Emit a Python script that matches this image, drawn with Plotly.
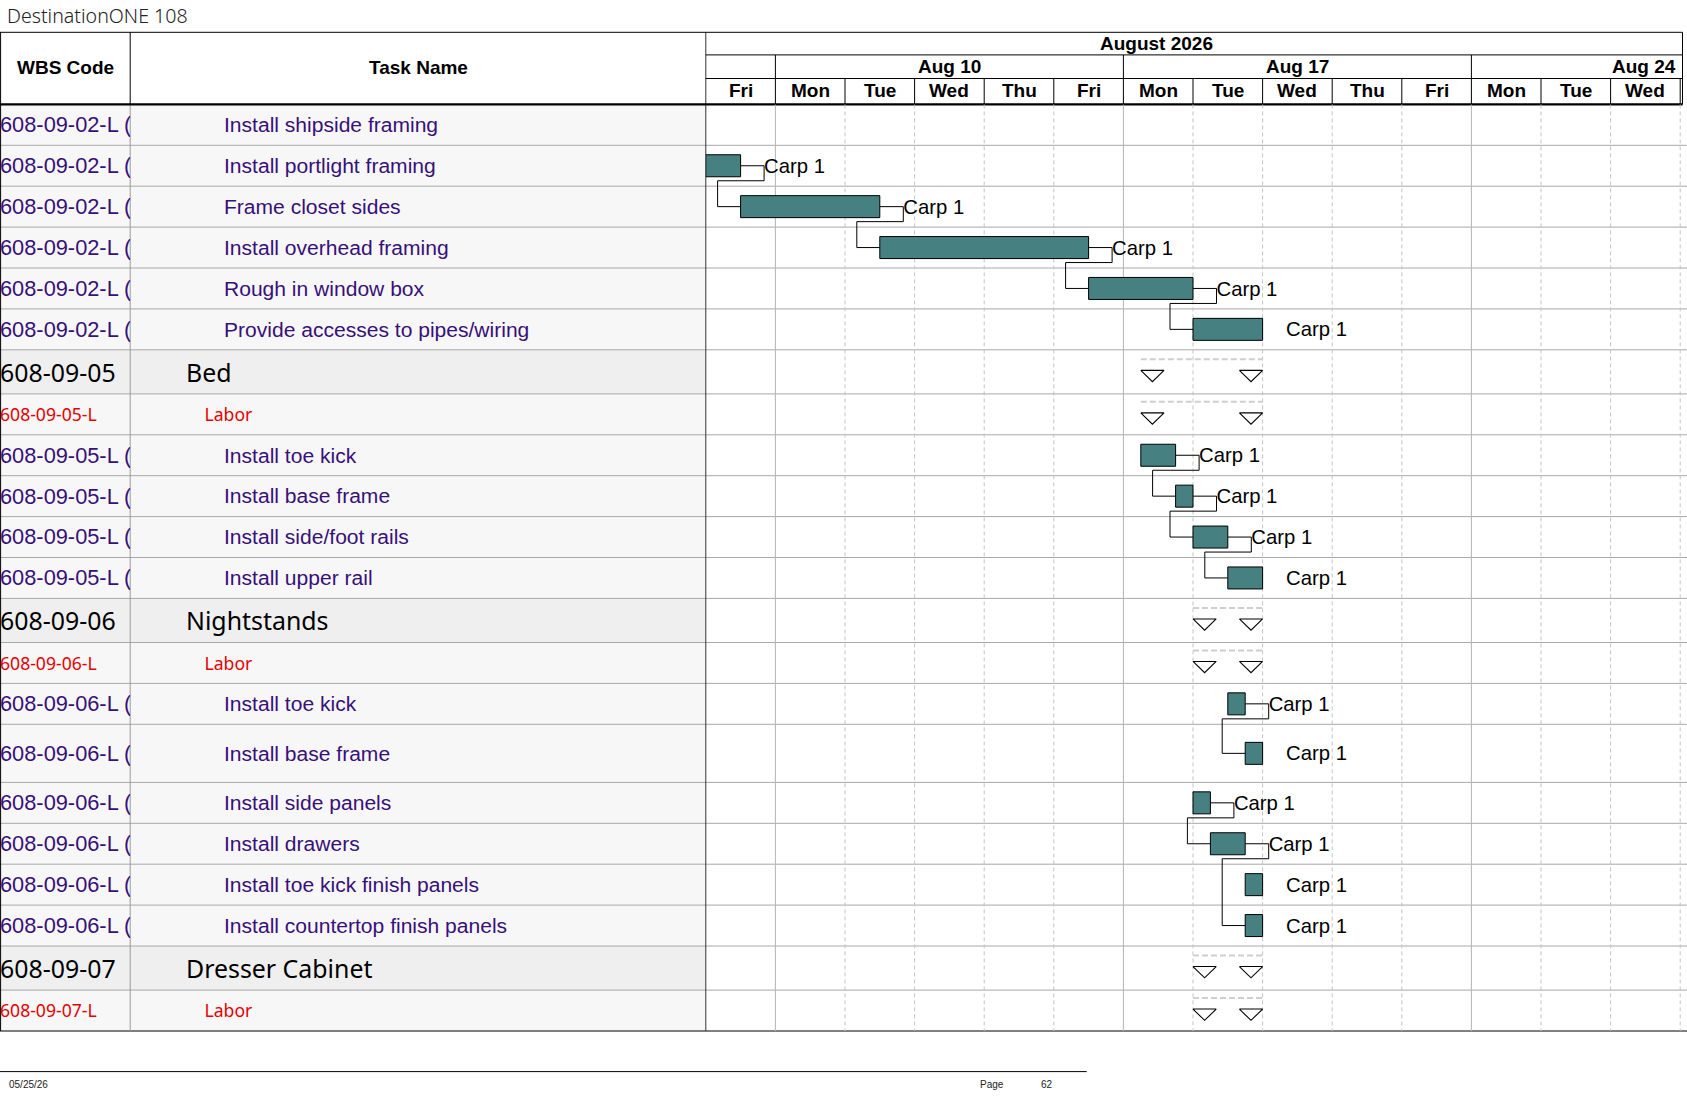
import plotly.graph_objects as go

# ---------------- data ----------------
title_text = "DestinationONE 108"
month_label = "August 2026"
week_labels = ["Aug 10", "Aug 17", "Aug 24"]
week_start_day = [1, 6, 11]          # working-day index of each Monday
day_labels = ["Fri", "Mon", "Tue", "Wed", "Thu", "Fri", "Mon",
              "Tue", "Wed", "Thu", "Fri", "Mon", "Tue", "Wed"]
header_wbs = "WBS Code"
header_task = "Task Name"

wbs_codes = [
    "608-09-02-L (", "608-09-02-L (", "608-09-02-L (", "608-09-02-L (",
    "608-09-02-L (", "608-09-02-L (",
    "608-09-05", "608-09-05-L",
    "608-09-05-L (", "608-09-05-L (", "608-09-05-L (", "608-09-05-L (",
    "608-09-06", "608-09-06-L",
    "608-09-06-L (", "608-09-06-L (", "608-09-06-L (", "608-09-06-L (",
    "608-09-06-L (", "608-09-06-L (",
    "608-09-07", "608-09-07-L",
]
task_names = [
    "Install shipside framing", "Install portlight framing", "Frame closet sides",
    "Install overhead framing", "Rough in window box", "Provide accesses to pipes/wiring",
    "Bed", "Labor",
    "Install toe kick", "Install base frame", "Install side/foot rails", "Install upper rail",
    "Nightstands", "Labor",
    "Install toe kick", "Install base frame", "Install side panels", "Install drawers",
    "Install toe kick finish panels", "Install countertop finish panels",
    "Dresser Cabinet", "Labor",
]
row_kind = (["task"] * 6 + ["summary", "labor"] + ["task"] * 4 +
            ["summary", "labor"] + ["task"] * 6 + ["summary", "labor"])

# start / finish in working days from Fri Aug 7 2026 (fractions of a day)
start_day = [None, 0.0, 0.5, 2.5, 5.5, 7.0,
             6.25, 6.25, 6.25, 6.75, 7.0, 7.5,
             7.0, 7.0, 7.5, 7.75, 7.0, 7.25, 7.75, 7.75,
             7.0, 7.0]
finish_day = [None, 0.5, 2.5, 5.5, 7.0, 8.0,
              8.0, 8.0, 6.75, 7.0, 7.5, 8.0,
              8.0, 8.0, 7.75, 8.0, 7.25, 7.75, 8.0, 8.0,
              8.0, 8.0]
resource = ["", "Carp 1", "Carp 1", "Carp 1", "Carp 1", "Carp 1",
            "", "", "Carp 1", "Carp 1", "Carp 1", "Carp 1",
            "", "", "Carp 1", "Carp 1", "Carp 1", "Carp 1", "Carp 1", "Carp 1",
            "", ""]
links = [(1, 2), (2, 3), (3, 4), (4, 5), (8, 9), (9, 10), (10, 11),
         (14, 15), (16, 17), (17, 19)]

footer_date = "05/25/26"
page_label = "Page"
page_no = "62"

# ---------------- style / layout ----------------
W, H = 1687, 1097
X_WBS, X_TL, X_RIGHT = 130.2, 705.8, 1682.5
DW = 69.6                       # pixels per working day
Y_TOP, Y_WEEK, Y_DAY, Y_BODY = 32.3, 54.9, 78.5, 104.4
H_ROW, H_SUM, H_TALL = 40.9, 44.1, 58.1
tall_rows = {15}
BAR_HALF = 11
ARIAL = "Liberation Sans, Arial, sans-serif"
TAHO = "Noto Sans, DejaVu Sans, sans-serif"
PURPLE = "#37107a"
RED = "#e60000"
TEAL = "#468080"
TEXT_DY = {"task": 2.0, "labor": 2.2, "summary": 3.5}

heights = [H_SUM if k == "summary" else (H_TALL if i in tall_rows else H_ROW)
           for i, k in enumerate(row_kind)]
tops = []
yy = Y_BODY
for h in heights:
    tops.append(yy)
    yy += h
Y_BOT = yy
centers = [t + h / 2 for t, h in zip(tops, heights)]
text_y = [c + TEXT_DY[k] for c, k in zip(centers, row_kind)]


def px(x):
    return x / W


shapes = []


def hline(y, x0, x1, color="black", width=1, dash=None, xref="paper"):
    shapes.append(dict(type="line", xref=xref, yref="y", x0=x0, x1=x1, y0=y, y1=y,
                       line=dict(color=color, width=width, dash=dash), layer="below"))


def vline(x, y0, y1, color="black", width=1, dash=None, xref="paper"):
    shapes.append(dict(type="line", xref=xref, yref="y", x0=x, x1=x, y0=y0, y1=y1,
                       line=dict(color=color, width=width, dash=dash), layer="below"))


# table cell backgrounds
for i, k in enumerate(row_kind):
    shapes.append(dict(type="rect", xref="paper", yref="y", x0=0, x1=px(X_TL),
                       y0=tops[i], y1=tops[i] + heights[i],
                       fillcolor="#efefef" if k == "summary" else "#f7f7f7",
                       line=dict(width=0), layer="below"))

# body vertical grid (days)
n_days = len(day_labels)
for d in range(1, n_days + 1):
    if d in week_start_day:
        vline(d, Y_BODY, Y_BOT, color="#b4b4b4", width=1, xref="x")
    else:
        vline(d, Y_BODY, Y_BOT, color="#c4c4c4", width=1, dash="4px,3px", xref="x")

# row lines
for i in range(len(row_kind) - 1):
    hline(tops[i] + heights[i], 0, 1, color="#a8a8a8")
hline(Y_BOT, 0, 1, color="black")

# column dividers
vline(px(0.6), Y_TOP, Y_BOT, color="black")
vline(px(X_WBS), Y_TOP, Y_BODY, color="black")
vline(px(X_WBS), Y_BODY, Y_BOT, color="#9a9a9a")
vline(px(X_TL), Y_TOP, Y_BOT, color="#333333")
vline(px(X_RIGHT), Y_TOP, Y_BODY, color="black")

# header lines
hline(Y_TOP, 0, px(X_RIGHT))
hline(Y_WEEK, px(X_TL), px(X_RIGHT))
hline(Y_DAY, px(X_TL), px(X_RIGHT))
hline(Y_BODY, 0, px(X_RIGHT), width=2.2)
for d in week_start_day:
    vline(d, Y_WEEK, Y_DAY, xref="x")
for d in range(1, n_days + 1):
    vline(d, Y_DAY, Y_BODY, xref="x")

# footer line
hline(1071.6, 0, px(1086.7), color="black")

traces = []

# summary dashed lines + triangles
sx, sy, tx, ty = [], [], [], []
TW = 23.2 / DW
for i, k in enumerate(row_kind):
    if k in ("summary", "labor"):
        s, f, c = start_day[i], finish_day[i], centers[i]
        sx += [s, f, None]
        sy += [c - 12.5, c - 12.5, None]
        for x0 in (s, f - TW):
            tx += [x0, x0 + TW, x0 + TW / 2, x0, None]
            ty += [c - 1.5, c - 1.5, c + 9.8, c - 1.5, None]
traces.append(go.Scatter(x=sx, y=sy, mode="lines", hoverinfo="skip",
                         line=dict(color="#cfcfcf", width=2, dash="6px,3px")))
traces.append(go.Scatter(x=tx, y=ty, mode="lines", fill="toself", fillcolor="white",
                         hoverinfo="skip", line=dict(color="black", width=1.1)))

# links
GAP = 23.5 / DW
BACK = 23.0 / DW
lx, ly = [], []
for p, s in links:
    fe, ss = finish_day[p], start_day[s]
    cp, cs = centers[p], centers[s]
    lx += [fe, fe + GAP, fe + GAP, ss - BACK, ss - BACK, ss, None]
    ly += [cp, cp, cp + 15, cp + 15, cs, cs, None]
traces.append(go.Scatter(x=lx, y=ly, mode="lines", hoverinfo="skip",
                         line=dict(color="black", width=1)))

# task bars
bx, by = [], []
for i, k in enumerate(row_kind):
    if k == "task" and start_day[i] is not None:
        s, f, c = start_day[i], finish_day[i], centers[i]
        bx += [s, f, f, s, s, None]
        by += [c - BAR_HALF, c - BAR_HALF, c + BAR_HALF, c + BAR_HALF, c - BAR_HALF, None]
traces.append(go.Scatter(x=bx, y=by, mode="lines", fill="toself", fillcolor=TEAL,
                         hoverinfo="skip", line=dict(color="black", width=1)))

# resource labels
rx, ry, rt = [], [], []
for i, r in enumerate(resource):
    if r:
        rx.append(finish_day[i] + GAP)
        ry.append(centers[i] + 2.0)
        rt.append(r)
traces.append(go.Scatter(x=rx, y=ry, text=rt, mode="text", textposition="middle right",
                         hoverinfo="skip",
                         textfont=dict(family=ARIAL, size=20.3, color="black")))

# table text
fam = [TAHO if k != "task" else ARIAL for k in row_kind]
size_wbs = [24.9 if k == "summary" else (17.6 if k == "labor" else 21.8) for k in row_kind]
size_task = [24.9 if k == "summary" else (17.6 if k == "labor" else 21.05) for k in row_kind]
col = ["black" if k == "summary" else (RED if k == "labor" else PURPLE) for k in row_kind]
indent = [186 if k == "summary" else (204.5 if k == "labor" else 224) for k in row_kind]

traces.append(go.Scatter(x=[0.0] * len(wbs_codes), y=text_y, text=wbs_codes,
                         mode="text", textposition="middle right", hoverinfo="skip",
                         xaxis="x2", yaxis="y", cliponaxis=True,
                         textfont=dict(family=fam, size=size_wbs, color=col)))
traces.append(go.Scatter(x=indent, y=text_y, text=task_names,
                         mode="text", textposition="middle right", hoverinfo="skip",
                         xaxis="x3", yaxis="y", cliponaxis=True,
                         textfont=dict(family=fam, size=size_task, color=col)))

fig = go.Figure(traces)

ann = []
hdr_font = dict(family=ARIAL, size=19, color="black", weight="bold")
ann.append(dict(text=header_wbs, xref="x2", yref="y", x=X_WBS / 2, y=67.6,
                showarrow=False, font=hdr_font))
ann.append(dict(text=header_task, xref="x3", yref="y", x=(X_WBS + X_TL) / 2, y=67.6,
                showarrow=False, font=hdr_font))
ann.append(dict(text=month_label, xref="x", yref="y", x=6.48, y=43.3,
                showarrow=False, font=hdr_font))
for j, (lab, d0) in enumerate(zip(week_labels, week_start_day)):
    if j + 1 < len(week_start_day):
        ann.append(dict(text=lab, xref="x", yref="y", x=(d0 + week_start_day[j + 1]) / 2,
                        y=66.9, showarrow=False, font=hdr_font))
    else:
        ann.append(dict(text=lab, xref="x", yref="y", x=(X_RIGHT - 5 - X_TL) / DW,
                        xanchor="right", y=66.9, showarrow=False, font=hdr_font))
for d, lab in enumerate(day_labels):
    ann.append(dict(text=lab, xref="x", yref="y", x=d + 0.5, y=90.6,
                    showarrow=False, font=hdr_font))

ann.append(dict(text=title_text, xref="x2", yref="y", x=5, y=15.5, xanchor="left",
                showarrow=False, font=dict(family=TAHO, size=19.6, color="#222222", weight=300)))

foot_font = dict(family="Liberation Sans Narrow, Liberation Sans, sans-serif", size=10, color="#222222")
ann.append(dict(text=footer_date, xref="paper", yref="y", x=px(7), y=1084, xanchor="left",
                showarrow=False, font=foot_font))
ann.append(dict(text=page_label, xref="paper", yref="y", x=px(978), y=1084, xanchor="left",
                showarrow=False, font=foot_font))
ann.append(dict(text=page_no, xref="paper", yref="y", x=px(1039), y=1084, xanchor="left",
                showarrow=False, font=foot_font))

ax_common = dict(visible=False, showgrid=False, zeroline=False, fixedrange=True)
fig.update_layout(
    width=W, height=H, margin=dict(l=0, r=0, t=0, b=0),
    paper_bgcolor="white", plot_bgcolor="rgba(0,0,0,0)", showlegend=False,
    xaxis=dict(domain=[px(X_TL), 1], range=[0, (W - X_TL) / DW], **ax_common),
    xaxis2=dict(domain=[0, px(X_WBS)], range=[0, X_WBS], anchor="y", **ax_common),
    xaxis3=dict(domain=[px(X_WBS), px(X_TL)], range=[X_WBS, X_TL], anchor="y", **ax_common),
    yaxis=dict(domain=[0, 1], range=[H, 0], **ax_common),
    shapes=shapes, annotations=ann,
)

fig.write_html("out.html", config={"displayModeBar": False},
               post_script="document.body.style.margin='0px';document.body.style.overflow='hidden';")
